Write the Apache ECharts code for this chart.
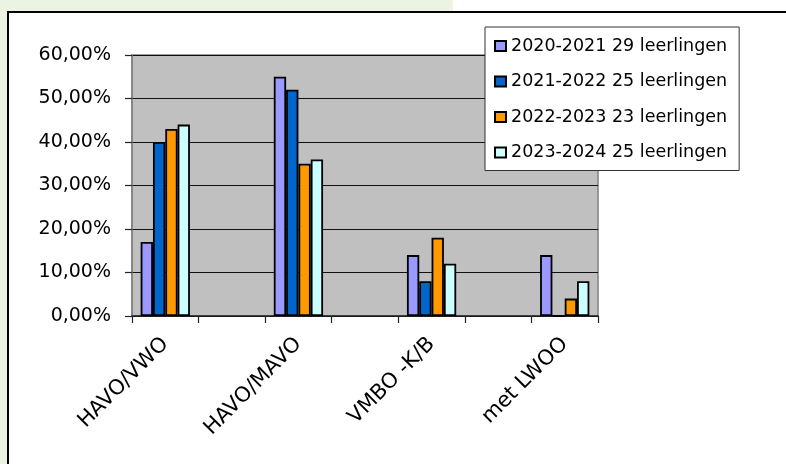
<!DOCTYPE html>
<html>
<head>
<meta charset="utf-8">
<script src="https://cdn.jsdelivr.net/npm/echarts@6/dist/echarts.min.js"></script>
<style>
html,body{margin:0;padding:0;width:786px;height:464px;overflow:hidden;background:#fff;}
.abs{position:absolute;}
</style>
</head>
<body>
<div class="abs" style="left:0;top:0;width:453px;height:12px;background:#ebf3e2"></div>
<div class="abs" style="left:0;top:0;width:7px;height:464px;background:#ebf3e2"></div>
<div class="abs" style="left:7px;top:11px;width:779px;height:453px;border-left:2px solid #000;border-top:2px solid #000;box-sizing:border-box;"></div>
<div id="chart" class="abs" style="left:0;top:0;width:786px;height:464px"></div>
<script>
const categories = ["HAVO/VWO", "", "HAVO/MAVO", "", "VMBO -K/B", "", "met LWOO"];
const seriesNames = ["2020-2021 29 leerlingen", "2021-2022 25 leerlingen", "2022-2023 23 leerlingen", "2023-2024 25 leerlingen"];
const values2020 = [17, null, 55, null, 14, null, 14];
const values2021 = [40, null, 52, null, 8, null, 0];
const values2022 = [43, null, 35, null, 18, null, 4];
const values2023 = [44, null, 36, null, 12, null, 8];
const yTicks = [0, 10, 20, 30, 40, 50, 60];

const colors = ["#9999ff", "#0066cc", "#ff9900", "#ccffff"];
const allValues = [values2020, values2021, values2022, values2023];
const FONT = "DejaVu Sans";

const chart = echarts.init(document.getElementById('chart'), null, {renderer: 'canvas'});
chart.setOption({
  animation: false,
  color: colors,
  textStyle: {fontFamily: FONT, color: '#000'},
  grid: {
    left: 132, right: 188, top: 55, bottom: 148,
    show: true, backgroundColor: '#c0c0c0', borderColor: '#808080', borderWidth: 1.5,
    containLabel: false
  },
  legend: {
    orient: 'vertical',
    left: 485, top: 27,
    backgroundColor: '#fff',
    borderColor: '#333',
    borderWidth: 1,
    padding: [9, 12, 8, 9],
    itemWidth: 11, itemHeight: 10,
    itemGap: 15.5,
    icon: 'rect',
    selectedMode: false,
    textStyle: {fontFamily: FONT, fontSize: 17.5, color: '#000', lineHeight: 20},
    data: seriesNames
  },
  xAxis: {
    type: 'category',
    data: categories,
    boundaryGap: true,
    axisLine: {show: true, lineStyle: {color: '#222', width: 1.5}},
    axisTick: {show: true, interval: 0, length: 7, lineStyle: {color: '#222', width: 1.2}},
    axisLabel: {interval: 0, rotate: 45, margin: 25, fontFamily: FONT, fontSize: 21, color: '#000'},
    splitLine: {show: false}
  },
  yAxis: {
    type: 'value',
    min: yTicks[0], max: yTicks[yTicks.length - 1], interval: 10,
    axisLine: {show: true, lineStyle: {color: '#808080', width: 1.5}},
    axisTick: {show: true, length: 7, lineStyle: {color: '#222', width: 1.2}},
    axisLabel: {
      margin: 21, fontFamily: FONT, fontSize: 19, color: '#000',
      formatter: v => v.toFixed(2).replace('.', ',') + '%'
    },
    splitLine: {show: true, lineStyle: {color: '#111', width: 1.2}}
  },
  series: seriesNames.map((name, i) => ({
    name: name,
    type: 'bar',
    data: allValues[i],
    barGap: '0%',
    barCategoryGap: '26%',
    itemStyle: {color: colors[i], borderColor: '#000', borderWidth: 1.8}
  }))
});
</script>
</body>
</html>
